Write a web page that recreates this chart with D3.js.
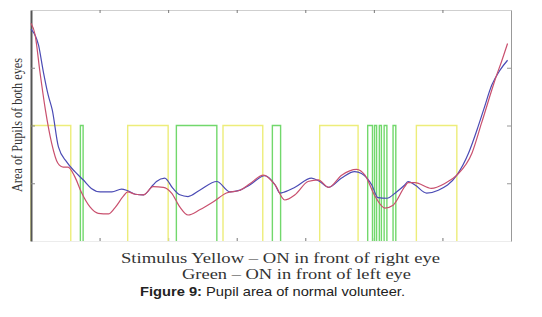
<!DOCTYPE html>
<html>
<head>
<meta charset="utf-8">
<script src="https://cdnjs.cloudflare.com/ajax/libs/d3/7.8.5/d3.min.js"></script>
<style>
  body { margin: 0; background: #fff; }
</style>
</head>
<body>
<div id="chart"></div>
<script>
// Pupil area curves (time, area)
const blueSeries = [
  [0, 3.67], [11, 3.39], [18, 2.93], [25, 2.53], [31, 2.27], [40, 1.63], [52, 1.37],
  [64, 1.20], [76, 1.06], [88, 0.91], [101, 0.85], [118, 0.85], [132, 0.90], [141, 0.87],
  [152, 0.81], [164, 0.80], [178, 0.97], [183, 1.03], [195, 1.09], [207, 0.91], [217, 0.80],
  [229, 0.77], [246, 0.88], [271, 1.03], [290, 0.85], [305, 0.88], [319, 0.97], [341, 1.13],
  [356, 0.97], [363, 0.83], [370, 0.85], [385, 0.93], [409, 1.09], [421, 1.03], [434, 0.93],
  [453, 1.09], [472, 1.20], [482, 1.17], [497, 0.97], [506, 0.75], [519, 0.74], [533, 0.85],
  [545, 0.97], [550, 1.03], [560, 0.97], [577, 0.83], [594, 0.88], [621, 1.14], [638, 1.52],
  [652, 1.98], [660, 2.27], [672, 2.70], [684, 2.96], [695, 3.13]
];
const redSeries = [
  [0, 3.77], [6, 3.57], [13, 2.93], [21, 2.27], [30, 1.70], [39, 1.35], [47, 1.28],
  [54, 1.28], [64, 1.11], [74, 0.83], [86, 0.59], [98, 0.48], [113, 0.47], [122, 0.57],
  [135, 0.78], [141, 0.85], [152, 0.81], [164, 0.80], [178, 0.94], [193, 0.93], [205, 0.83],
  [217, 0.59], [229, 0.45], [246, 0.54], [266, 0.68], [285, 0.83], [305, 0.88], [319, 0.99],
  [339, 1.14], [356, 0.97], [370, 0.71], [385, 0.80], [404, 1.03], [419, 1.06], [434, 0.93],
  [453, 1.14], [475, 1.24], [487, 1.14], [502, 0.77], [516, 0.57], [528, 0.62], [545, 0.94],
  [550, 1.01], [560, 1.01], [584, 0.91], [604, 1.00], [621, 1.14], [643, 1.52], [657, 2.04],
  [679, 2.87], [686, 3.10], [695, 3.42]
];
// Stimulus ON intervals (start, end)
const yellowOn = [[0, 58], [141, 200], [280, 338], [421, 477], [562, 621]];
const greenOn = [[72, 76], [212, 271], [352, 364], [491, 498], [501, 504], [508, 511], [515, 519], [528, 532]];
const stimulusLevel = 2;
const xTicks = [100, 200, 300, 400, 500, 600];
const yTicks = [1, 2, 3];

const W = 542, H = 317;
const margin = { top: 10, right: 31, bottom: 76, left: 31 };

const svg = d3.select("#chart").append("svg")
  .attr("width", W)
  .attr("height", H);

const x = d3.scaleLinear().domain([0, 700]).range([margin.left, W - margin.right]);
const y = d3.scaleLinear().domain([0, 4]).range([H - margin.bottom, margin.top]);

// frame + ticks
svg.append("g")
  .attr("transform", `translate(0,${y(4)})`)
  .call(d3.axisTop(x).tickValues(xTicks).tickSize(-3).tickSizeOuter(0).tickFormat(""))
  .call(g => g.select(".domain").attr("stroke", "#cfcfcf"))
  .call(g => g.selectAll(".tick line").attr("stroke", "#777"));

svg.append("g")
  .attr("transform", `translate(0,${y(0)})`)
  .call(d3.axisBottom(x).tickValues(xTicks).tickSize(-3).tickSizeOuter(0).tickFormat(""))
  .call(g => g.select(".domain").attr("stroke", "#ececec"))
  .call(g => g.selectAll(".tick line").attr("stroke", "#777"));

svg.append("g")
  .attr("transform", `translate(${x(700)},0)`)
  .call(d3.axisRight(y).tickValues(yTicks).tickSize(-4).tickSizeOuter(0).tickFormat(""))
  .call(g => g.select(".domain").attr("stroke", "#999"))
  .call(g => g.selectAll(".tick line").attr("stroke", "#999"));

// stimulus pulses (only the ON parts are visible)
const stepLine = d3.line().x(d => x(d[0])).y(d => y(d[1]));
const pulse = ([a, b]) => [[a, 0], [a, stimulusLevel], [b, stimulusLevel], [b, 0]];

svg.append("g").selectAll("path")
  .data(yellowOn)
  .join("path")
  .attr("d", d => stepLine(pulse(d)))
  .attr("fill", "none")
  .attr("stroke", "#eded7a")
  .attr("stroke-width", 1.4);

svg.append("g").selectAll("path")
  .data(greenOn)
  .join("path")
  .attr("d", d => stepLine(pulse(d)))
  .attr("fill", "none")
  .attr("stroke", "#72d86c")
  .attr("stroke-width", 1.4);

svg.append("g")
  .attr("transform", `translate(${x(0)},0)`)
  .call(d3.axisLeft(y).tickValues(yTicks).tickSize(-4).tickSizeOuter(0).tickFormat(""))
  .call(g => g.select(".domain").attr("stroke", "#555").attr("stroke-width", 2))
  .call(g => g.selectAll(".tick line").attr("stroke", "#888"));

// pupil curves
const curve = d3.line()
  .x(d => x(d[0]))
  .y(d => y(d[1]))
  .curve(d3.curveMonotoneX);

svg.append("path")
  .attr("d", curve(blueSeries))
  .attr("fill", "none")
  .attr("stroke", "#4b4bb5")
  .attr("stroke-width", 1.2);

svg.append("path")
  .attr("d", curve(redSeries))
  .attr("fill", "none")
  .attr("stroke", "#c9506e")
  .attr("stroke-width", 1.2);

// y label
svg.append("text")
  .attr("transform", `translate(22,${125}) rotate(-90)`)
  .attr("text-anchor", "middle")
  .attr("textLength", 134)
  .attr("lengthAdjust", "spacingAndGlyphs")
  .style("font-family", "'Liberation Serif', serif")
  .style("font-size", "14px")
  .style("fill", "#333")
  .text("Area of Pupils of both eyes");

// stimulus notes
svg.append("text")
  .attr("x", 121).attr("y", 263)
  .attr("textLength", 319)
  .attr("lengthAdjust", "spacingAndGlyphs")
  .style("font-family", "'Liberation Serif', serif")
  .style("font-size", "15px")
  .style("fill", "#333")
  .text("Stimulus Yellow \u2013 ON in front of right eye");

svg.append("text")
  .attr("x", 182).attr("y", 279)
  .attr("textLength", 229)
  .attr("lengthAdjust", "spacingAndGlyphs")
  .style("font-family", "'Liberation Serif', serif")
  .style("font-size", "15px")
  .style("fill", "#333")
  .text("Green \u2013 ON in front of left eye");

// caption
const cap = svg.append("text")
  .attr("x", 140).attr("y", 296)
  .attr("textLength", 265)
  .attr("lengthAdjust", "spacingAndGlyphs")
  .style("font-family", "'Liberation Sans', Arial, sans-serif")
  .style("font-size", "13.5px")
  .style("fill", "#222");
cap.append("tspan").style("font-weight", "bold").text("Figure 9:");
cap.append("tspan").text(" Pupil area of normal volunteer.");
</script>
</body>
</html>
